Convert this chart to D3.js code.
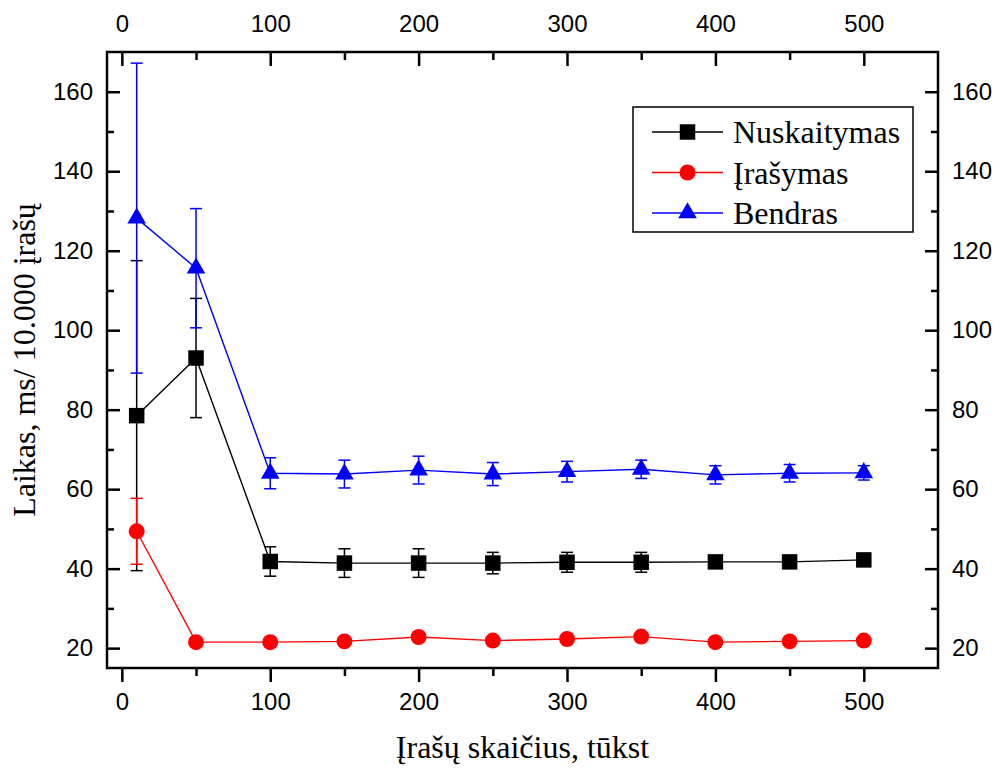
<!doctype html>
<html>
    <head>
        <title>Laikas</title>
        <meta charset="utf-8" />
        <style>
            body { margin: 0; background: #fff; }
            svg { display: block; }
            .tick text { font-family: "Liberation Sans", Arial, sans-serif; font-size: 24px; fill: #000; }
            .ttl { font-family: "Liberation Serif", "Times New Roman", serif; font-size: 32px; fill: #000; }
        </style>
    </head>
    <script src="https://cdnjs.cloudflare.com/ajax/libs/d3/7.8.5/d3.min.js"></script>

    <body>
        <svg width="1005" height="769"></svg>
        <script>
            // tūkst. įrašų
            var xs = [10, 50, 100, 150, 200, 250, 300, 350, 400, 450, 500];

            var readVals  = [78.5, 93, 41.8, 41.4, 41.4, 41.4, 41.6, 41.6, 41.7, 41.7, 42.2];
            var readErr   = [39, 15, 3.7, 3.6, 3.6, 2.7, 2.5, 2.5, 1.5, 1.5, 1.2];
            var writeVals = [49.4, 21.5, 21.5, 21.7, 22.8, 21.9, 22.3, 22.9, 21.5, 21.7, 21.9];
            var writeErr  = [8.3, 0.5, 0.5, 0.5, 0.5, 0.5, 0.6, 0.5, 0.5, 0.5, 0.5];
            var totalVals = [128.2, 115.6, 64, 63.8, 64.8, 63.8, 64.4, 65, 63.6, 64, 64.1];
            var totalErr  = [39, 15, 3.9, 3.5, 3.5, 2.9, 2.6, 2.3, 2.3, 2.2, 1.8];

            var xTicks = [0, 100, 200, 300, 400, 500];
            var xMinor = [50, 150, 250, 350, 450];
            var yTicks = [20, 40, 60, 80, 100, 120, 140, 160];
            var yMinor = [30, 50, 70, 90, 110, 130, 150];

            var seriesNames = ["Nuskaitymas", "Įrašymas", "Bendras"];

            var pLeft = 107, pRight = 938, pTop = 52, pBottom = 668;

            var x = d3.scaleLinear().domain([-10, 550]).range([pLeft, pRight]);
            var y = d3.scaleLinear().domain([15, 170]).range([pBottom, pTop]);

            var svg = d3.select("svg");

            // axes: ticks inside on left/top/right, outside on bottom
            function axisG(axis, tx, ty) {
                var g = svg.append("g").attr("transform", `translate(${tx},${ty})`).call(axis);
                g.select(".domain").remove();
                g.selectAll(".tick line").style("stroke", "#000").style("stroke-width", "2.5px");
                return g;
            }
            axisG(d3.axisLeft(y).tickValues(yTicks).tickSize(-13).tickPadding(14), pLeft, 0);
            axisG(d3.axisLeft(y).tickValues(yMinor).tickSize(-7).tickFormat(""), pLeft, 0);
            axisG(d3.axisRight(y).tickValues(yTicks).tickSize(-13).tickPadding(14), pRight, 0);
            axisG(d3.axisRight(y).tickValues(yMinor).tickSize(-7).tickFormat(""), pRight, 0);
            axisG(d3.axisBottom(x).tickValues(xTicks).tickSize(14).tickPadding(11), 0, pBottom);
            axisG(d3.axisBottom(x).tickValues(xMinor).tickSize(8).tickFormat(""), 0, pBottom);
            axisG(d3.axisTop(x).tickValues(xTicks).tickSize(-14).tickPadding(20), 0, pTop);
            axisG(d3.axisTop(x).tickValues(xMinor).tickSize(-8).tickFormat(""), 0, pTop);

            svg.append("rect")
              .attr("x", pLeft).attr("y", pTop)
              .attr("width", pRight - pLeft).attr("height", pBottom - pTop)
              .style("fill", "none").style("stroke", "#000").style("stroke-width", "2.5px");

            var series = [
                {name: seriesNames[0], vals: readVals, err: readErr, color: "#000000", sym: d3.symbolSquare, size: 240},
                {name: seriesNames[1], vals: writeVals, err: writeErr, color: "#ff0000", sym: d3.symbolCircle, size: 200},
                {name: seriesNames[2], vals: totalVals, err: totalErr, color: "#0000ff", sym: d3.symbolTriangle, size: 150}
            ];

            var plot = svg.append("g");

            // error bars
            series.forEach(function(s) {
                var pts = xs.map((v, i) => ({x: v, y: s.vals[i], e: s.err[i]}));
                var eb = plot.append("g").selectAll("g").data(pts).enter().append("g")
                  .style("stroke", s.color).style("stroke-width", "1.5px");
                eb.append("line")
                  .attr("x1", d => x(d.x)).attr("x2", d => x(d.x))
                  .attr("y1", d => y(d.y - d.e)).attr("y2", d => y(d.y + d.e));
                eb.append("line")
                  .attr("x1", d => x(d.x) - 6).attr("x2", d => x(d.x) + 6)
                  .attr("y1", d => y(d.y + d.e)).attr("y2", d => y(d.y + d.e));
                eb.append("line")
                  .attr("x1", d => x(d.x) - 6).attr("x2", d => x(d.x) + 6)
                  .attr("y1", d => y(d.y - d.e)).attr("y2", d => y(d.y - d.e));
            });

            var line = d3.line().x(d => x(d.x)).y(d => y(d.y));

            series.forEach(function(s) {
                var pts = xs.map((v, i) => ({x: v, y: s.vals[i]}));
                plot.append("path").datum(pts).attr("d", line)
                  .style("fill", "none").style("stroke", s.color).style("stroke-width", "1.4px");
                plot.append("g").selectAll("path").data(pts).enter().append("path")
                  .attr("transform", d => `translate(${x(d.x)},${y(d.y)})`)
                  .attr("d", d3.symbol().type(s.sym).size(s.size))
                  .style("fill", s.color);
            });

            // legend
            var lg = svg.append("g");
            lg.append("rect")
              .attr("x", 633).attr("y", 107).attr("width", 280).attr("height", 125)
              .style("fill", "#fff").style("stroke", "#000").style("stroke-width", "1.5px");
            series.forEach(function(s, i) {
                var ly = 132 + i * 40.5;
                lg.append("line").attr("x1", 652).attr("x2", 723).attr("y1", ly).attr("y2", ly)
                  .style("stroke", s.color).style("stroke-width", "1.4px");
                lg.append("path").attr("transform", `translate(687.5,${ly})`)
                  .attr("d", d3.symbol().type(s.sym).size(s.size))
                  .style("fill", s.color);
                lg.append("text").attr("class", "ttl")
                  .attr("x", 733).attr("y", ly + 11)
                  .text(s.name);
            });

            // axis titles
            svg.append("text").attr("class", "ttl")
              .attr("x", (pLeft + pRight) / 2).attr("y", 758)
              .attr("text-anchor", "middle")
              .text("Įrašų skaičius, tūkst");
            svg.append("text").attr("class", "ttl")
              .attr("transform", `translate(35,${(pTop + pBottom) / 2}) rotate(-90)`)
              .attr("text-anchor", "middle")
              .text("Laikas, ms/ 10.000 įrašų");
        </script>
    </body>
</html>
